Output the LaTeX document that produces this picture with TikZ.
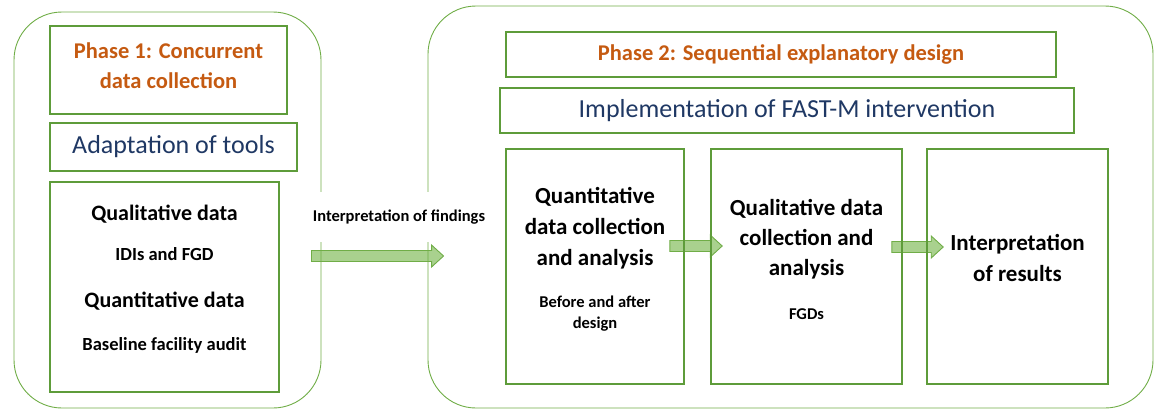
\documentclass[tikz,border=0pt]{standalone}
\usepackage{fontspec}
\setmainfont{Carlito}
\usetikzlibrary{calc,backgrounds}
\definecolor{boxgreen}{HTML}{5E9C3A}
\definecolor{panelgreen}{HTML}{70AD47}
\definecolor{arrowfill}{HTML}{A9D18E}
\definecolor{phaseorange}{HTML}{C55A11}
\definecolor{titleblue}{HTML}{1F3864}
\newcommand{\smalltxt}[2][16.5]{{\fontsize{#1}{20}\selectfont #2}}
\begin{document}
\begin{tikzpicture}[x=1pt,y=-1pt,
    panel/.style={draw=panelgreen,line width=0.9pt,rounded corners=48pt,inner sep=0pt},
    box/.style={draw=boxgreen,line width=1.6pt,inner sep=0pt,align=center,font=\bfseries\fontsize{23}{31}\selectfont},
    phase/.style={box,text=phaseorange,font=\bfseries\fontsize{22.5}{30}\selectfont},
    title/.style={box,text=titleblue,font=\fontsize{26}{30}\selectfont},
    fat/.style={draw=panelgreen,fill=arrowfill,line width=0.9pt,to path={let \p1=(\tikztostart),\p2=(\tikztotarget) in
        (\x1,\y1-5.5pt) -- (\x2-12pt,\y1-5.5pt) -- (\x2-12pt,\y1-11pt) -- (\x2,\y1)
        -- (\x2-12pt,\y1+11pt) -- (\x2-12pt,\y1+5.5pt) -- (\x1,\y1+5.5pt) -- cycle}}]
    \useasboundingbox (0,0) rectangle (1158,410);
    \node[panel,minimum width=307pt,minimum height=396pt] (p1) at (167.5,210) {};
    \node[panel,minimum width=725pt,minimum height=402pt] (p2) at (790.5,207) {};
    \node[phase,minimum width=237pt,minimum height=88pt,text depth=9pt] (ph1) at (168.5,70) {Phase 1: Concurrent\\data collection};
    \node[title,minimum width=247pt,minimum height=48pt] (adapt) at (173.5,147) {Adaptation of tools};
    \node[box,minimum width=229pt,minimum height=210pt,text depth=18.5pt,font=\bfseries\fontsize{22}{43}\selectfont] (qual) at (164.5,287)
        {Qualitative data\\[-3pt]\smalltxt[18.5]{IDIs and FGD}\\[4pt]Quantitative data\\\smalltxt[18.5]{Baseline facility audit}};
    \node[phase,minimum width=550pt,minimum height=45pt] (ph2) at (781,54.5) {Phase 2: Sequential explanatory design};
    \node[title,minimum width=574pt,minimum height=45pt] (impl) at (787,110.5) {Implementation of FAST-M intervention};
    \node[box,minimum width=178pt,minimum height=235pt,text depth=17pt] (qa) at (595,266.5)
        {Quantitative\\data collection\\and analysis\\[11pt]\smalltxt{Before and after}\\[-10pt]\smalltxt{design}};
    \node[box,minimum width=191pt,minimum height=235pt,text depth=14pt,font=\bfseries\fontsize{23}{30}\selectfont] (qb) at (806.5,266.5)
        {Qualitative data\\collection and\\analysis\\[13.5pt]\smalltxt{FGDs}};
    \node[box,minimum width=181pt,minimum height=235pt,text depth=18pt] (qc) at (1017.5,266.5) {Interpretation\\of results};
    \begin{pgfonlayer}{background}
        \draw[fat] ([xshift=-10pt,yshift=-46pt]p1.east) to ([xshift=16pt,yshift=-46pt]p2.west);
        \draw[fat] ([xshift=-15pt,yshift=20.5pt]qa.east) to ([xshift=12pt,yshift=20.5pt]qb.west);
        \draw[fat] ([xshift=-11pt,yshift=19.5pt]qb.east) to ([xshift=17pt,yshift=19.5pt]qc.west);
    \end{pgfonlayer}
    \node[fill=white,inner xsep=2pt,minimum height=50pt,font=\bfseries\fontsize{16.5}{20}\selectfont] (find) at (399,217) {Interpretation of findings};
\end{tikzpicture}
\end{document}
